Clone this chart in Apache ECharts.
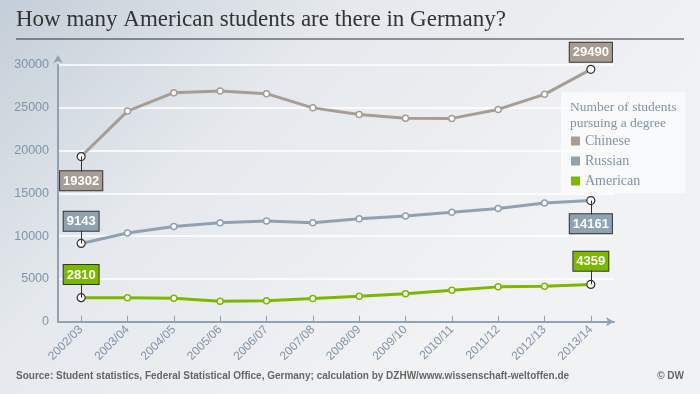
<!DOCTYPE html>
<html>
<head>
<meta charset="utf-8">
<script src="https://cdn.jsdelivr.net/npm/echarts@6/dist/echarts.min.js"></script>
<style>
html,body{margin:0;padding:0;}
#c{width:700px;height:394px;}
</style>
</head>
<body>
<div id="c"></div>
<script>
var categories = ['2002/03','2003/04','2004/05','2005/06','2006/07','2007/08','2008/09','2009/10','2010/11','2011/12','2012/13','2013/14'];
var chinese  = [19302, 24610, 26760, 26950, 26650, 24990, 24220, 23790, 23760, 24810, 26570, 29490];
var russian  = [9143, 10360, 11130, 11570, 11760, 11570, 12040, 12350, 12780, 13240, 13870, 14161];
var american = [2810, 2810, 2740, 2390, 2460, 2700, 2980, 3280, 3680, 4070, 4150, 4359];
var yTicks = [0, 5000, 10000, 15000, 20000, 25000, 30000];

var colors = {Chinese:'#a89d92', Russian:'#8fa2b1', American:'#7db800'};
var labelFont = 'Liberation Sans, Arial, sans-serif';
var serif = 'Liberation Serif, Georgia, serif';

var gridH = 256.7, yMax = 30000;
var endSymbol = 8;

// first and last points carry a value box: [position, distance px] for each
var boxPos = {
  Chinese: [['bottom',10],['top',3]],
  Russian: [['top',8],['bottom',9]],
  American: [['top',9],['top',9]]
};

function buildData(name, arr){
  var c = colors[name];
  return arr.map(function(v, i){
    if (i === 0 || i === arr.length - 1) {
      var p = boxPos[name][i === 0 ? 0 : 1];
      return {
        value: v,
        symbolSize: endSymbol,
        itemStyle: {color:'#fff', borderColor:'#333', borderWidth:1.2},
        label: {
          show: true, position: p[0], distance: p[1],
          formatter: String(v),
          backgroundColor: c, borderColor:'#333', borderWidth:1,
          padding:[3,3,2,3], lineHeight:14, color:'#fff', fontWeight:'bold', fontSize:13,
          fontFamily: labelFont
        }
      };
    }
    return v;
  });
}

function connectors(name, arr){
  var out = [];
  [0, arr.length - 1].forEach(function(i){
    var p = boxPos[name][i === 0 ? 0 : 1];
    var v = arr[i];
    var d = (p[1] + endSymbol / 2 + 1) * yMax / gridH;
    var end = p[0] === 'top' ? v + d : v - d;
    out.push([{coord:[i, v]}, {coord:[i, end]}]);
  });
  return out;
}

function mkSeries(name, arr){
  return {
    name: name, type:'line', data: buildData(name, arr),
    symbol:'circle', symbolSize:6, showAllSymbol:true,
    lineStyle:{color:colors[name], width:3},
    itemStyle:{color:'#fff', borderColor:colors[name], borderWidth:1.5},
    label:{show:false},
    emphasis:{disabled:true},
    markLine:{
      silent:true, symbol:['none','none'], animation:false,
      label:{show:false},
      lineStyle:{color:'#333', width:1, type:'solid'},
      emphasis:{disabled:true},
      data: connectors(name, arr)
    },
    animation:false, z: 3
  };
}

var chart = echarts.init(document.getElementById('c'), null, {renderer:'canvas'});
chart.setOption({
  backgroundColor: {type:'linear', x:0, y:0, x2:0.55, y2:1, colorStops:[
    {offset:0, color:'#c4ced8'}, {offset:0.45, color:'#e5e9ed'}, {offset:1, color:'#f1f2f4'}]},
  animation:false,
  color: [colors.Chinese, colors.Russian, colors.American],
  grid: {left:58, top:65, width:556, height:gridH, containLabel:false},
  xAxis: {
    type:'category', data: categories, boundaryGap:true,
    axisLine:{show:true, symbol:['none','arrow'], symbolSize:[7,8], lineStyle:{color:'#8fa1b3', width:2}},
    axisTick:{show:true, inside:true, alignWithLabel:true, length:6, lineStyle:{color:'#8fa1b3', width:1}},
    axisLabel:{rotate:45, color:'#8094a8', fontSize:12, fontFamily:labelFont, margin:6, interval:0},
    splitLine:{show:false}
  },
  yAxis: {
    type:'value', min:0, max:yMax, interval:5000,
    axisLine:{show:true, symbol:['none','arrow'], symbolSize:[7,8], symbolOffset:[0,10], lineStyle:{color:'#8fa1b3', width:2}},
    axisTick:{show:false},
    axisLabel:{color:'#8094a8', fontSize:12.5, fontFamily:labelFont, margin:9,
      formatter:function(v){ return yTicks.indexOf(v) >= 0 ? String(v) : ''; }},
    splitLine:{show:true, lineStyle:{color:'#ffffff', width:1.5}}
  },
  legend: {
    data:[
      {name:'Chinese', itemStyle:{color:colors.Chinese, borderWidth:0}},
      {name:'Russian', itemStyle:{color:colors.Russian, borderWidth:0}},
      {name:'American', itemStyle:{color:colors.American, borderWidth:0}}
    ],
    orient:'vertical', left:566, top:133, itemGap:4, padding:[0,5],
    itemWidth:9, itemHeight:9, icon:'rect',
    textStyle:{color:'#8094a8', fontFamily:serif, fontSize:14, lineHeight:16},
    selectedMode:false, z:5
  },
  graphic: [
    {type:'text', left:16, top:8, style:{text:'How many American students are there in Germany?', fill:'#333', font:'23px Liberation Serif, Georgia, serif'}},
    {type:'line', shape:{x1:16, y1:39, x2:684, y2:39}, style:{stroke:'#333', lineWidth:1}},
    {type:'rect', shape:{x:561, y:92, width:124, height:101}, style:{fill:'rgba(255,255,255,0.6)'}, z:4},
    {type:'text', left:570, top:99, z:5, style:{text:'Number of students\npursuing a degree', fill:'#8094a8', font:'13.5px Liberation Serif, Georgia, serif', lineHeight:16}},
    {type:'text', left:16, top:371, style:{text:'Source: Student statistics, Federal Statistical Office, Germany; calculation by DZHW/www.wissenschaft-weltoffen.de', fill:'#666', font:'bold 10px Liberation Sans, Arial, sans-serif'}},
    {type:'text', right:16, top:371, style:{text:'\u00a9 DW', fill:'#666', font:'bold 10px Liberation Sans, Arial, sans-serif'}}
  ],
  series: [
    mkSeries('Chinese', chinese),
    mkSeries('Russian', russian),
    mkSeries('American', american)
  ]
});
</script>
</body>
</html>
